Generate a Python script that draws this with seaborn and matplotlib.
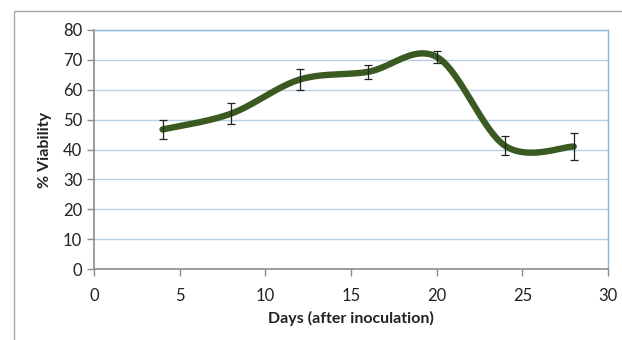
import numpy as np
import seaborn as sns
import matplotlib
matplotlib.use("Agg")
import matplotlib.pyplot as plt
from matplotlib.patches import Rectangle

days = [4, 8, 12, 16, 20, 24, 28]
viability = [46.7, 52.0, 63.4, 66.0, 71.0, 41.2, 41.0]
errors = [3.3, 3.5, 3.5, 2.4, 2.0, 3.2, 4.5]


def smooth_curve(x, y, steps=40):
    # Excel-style smoothed line (Catmull-Rom through the points)
    x = np.asarray(x, float)
    y = np.asarray(y, float)
    px = np.concatenate([[x[0]], x, [x[-1]]])
    py = np.concatenate([[y[0]], y, [y[-1]]])
    xs, ys = [], []
    t = np.linspace(0, 1, steps)
    for i in range(1, len(px) - 2):
        p0 = np.array([px[i], py[i]])
        p3 = np.array([px[i + 1], py[i + 1]])
        p1 = p0 + (np.array([px[i + 1], py[i + 1]]) - np.array([px[i - 1], py[i - 1]])) / 6
        p2 = p3 - (np.array([px[i + 2], py[i + 2]]) - np.array([px[i], py[i]])) / 6
        b = ((1 - t) ** 3)[:, None] * p0 + (3 * (1 - t) ** 2 * t)[:, None] * p1 \
            + (3 * (1 - t) * t ** 2)[:, None] * p2 + (t ** 3)[:, None] * p3
        xs.extend(b[:, 0])
        ys.extend(b[:, 1])
    return np.array(xs), np.array(ys)


sns.set_theme(style="white")
plt.rcParams["font.family"] = ["Lato", "DejaVu Sans"]

fig = plt.figure(figsize=(6.22, 3.4), dpi=100)
ax = fig.add_axes([94 / 622, 71 / 340, 514 / 622, 239 / 340])

# outer chart frame
fig.patches.append(Rectangle((14 / 622, -0.1), 1.0, 1.1 - 11 / 340, transform=fig.transFigure,
                             fill=False, edgecolor="#a6a6a6", linewidth=1.0))

sx, sy = smooth_curve(days, viability)
sns.lineplot(x=sx, y=sy, ax=ax, color="#3a5a22", linewidth=4.6, sort=False,
             solid_capstyle="round", zorder=3)
ax.errorbar(days, viability, yerr=errors, fmt="none", ecolor="#222222",
            elinewidth=0.9, capsize=3, capthick=0.9, zorder=4)

ax.set_xlim(0, 30)
ax.set_ylim(0, 80)
ax.set_xticks(range(0, 31, 5))
ax.set_yticks(range(0, 81, 10))
ax.grid(axis="y", color="#b8cfe6", linewidth=1.0)
ax.set_axisbelow(True)

for side in ["top", "right"]:
    ax.spines[side].set_color("#8fb4de")
    ax.spines[side].set_linewidth(1.0)
for side in ["left", "bottom"]:
    ax.spines[side].set_color("#8c8c8c")
    ax.spines[side].set_linewidth(1.2)

ax.tick_params(axis="both", direction="out", length=5, width=1, color="#8c8c8c",
               labelsize=12, labelcolor="#222222", bottom=True, left=True)
ax.tick_params(axis="x", pad=9)

ax.set_xlabel("Days (after inoculation)", fontsize=11.5, fontweight="bold",
              color="#222222", labelpad=5)
ax.set_ylabel("% Viability", fontsize=11.5, fontweight="bold", color="#222222",
              labelpad=8)

fig.savefig("out.png", dpi=100)
